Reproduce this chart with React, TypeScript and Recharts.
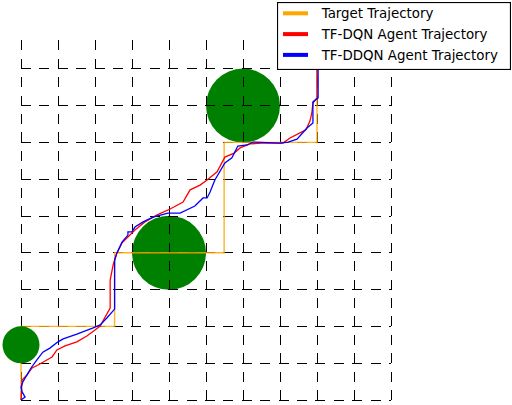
import { ComposedChart, Legend, Scatter, XAxis, YAxis } from 'recharts';

// grid cell coordinates
const gridX = [0, 1, 2, 3, 4, 5, 6, 7, 8, 9, 10];
const gridY = [0, 1, 2, 3, 4, 5, 6, 7, 8, 9];

// target path
const targetX = [0, 0, 2.53, 2.53, 5.49, 5.49, 8, 8];
const targetY = [0, 2, 2, 4, 4, 7, 7, 10];

// TF-DQN agent
const dqnX = [0, 0.03, 0.16, 0.3, 0.46, 0.65, 0.84, 0.97, 1.19, 1.51, 1.78, 2.0, 2.14, 2.41, 2.41, 2.49, 2.59, 2.73, 2.89, 3.08, 3.35, 3.68, 4.03, 4.38, 4.57, 4.84, 5.03, 5.3, 5.51, 5.76, 5.92, 6.19, 6.51, 7.08, 7.27, 7.54, 7.7, 7.81, 7.86, 7.89, 8.0, 8.0];
const dqnY = [0, 0.54, 0.68, 0.87, 0.95, 1.06, 1.17, 1.36, 1.47, 1.58, 1.74, 1.9, 2.01, 2.5, 3.26, 3.67, 3.99, 4.27, 4.43, 4.62, 4.84, 5.03, 5.19, 5.38, 5.71, 5.84, 5.98, 6.2, 6.6, 6.71, 6.85, 6.96, 6.98, 6.98, 7.12, 7.26, 7.34, 7.58, 7.8, 8.07, 8.21, 10.0];

// TF-DDQN agent
const ddqnX = [0, 0.11, 0.03, 0, 0.05, 0.16, 0.27, 0.43, 0.59, 0.78, 1.0, 1.14, 1.51, 1.95, 2.14, 2.32, 2.53, 2.53, 2.59, 2.73, 2.89, 2.89, 3.0, 3.08, 3.3, 3.57, 3.97, 4.3, 4.7, 4.92, 5.03, 5.11, 5.24, 5.51, 5.7, 5.86, 6.11, 6.27, 7.0, 7.22, 7.46, 7.73, 7.89, 7.89, 8.03, 8.03];
const ddqnY = [0, 0.08, 0.22, 0.35, 0.49, 0.68, 0.87, 1.09, 1.3, 1.41, 1.58, 1.66, 1.79, 1.96, 2.04, 2.23, 2.47, 3.8, 3.99, 4.29, 4.48, 4.57, 4.57, 4.7, 4.84, 4.97, 5.08, 5.08, 5.27, 5.49, 5.49, 5.65, 5.98, 6.44, 6.58, 6.9, 6.93, 7.01, 6.98, 7.01, 7.09, 7.39, 7.53, 8.1, 8.21, 10.0];

// obstacles (first one is drawn on top)
const obstacleX = [0, 4, 6];
const obstacleY = [1.5, 4, 8];
const obstacleR = [0.5, 1, 1];

const seriesNames = ['Target Trajectory', 'TF-DQN Agent Trajectory', 'TF-DDQN Agent Trajectory'];
const seriesColors = ['#ffa500', '#ff0000', '#0000ff'];

const W = 512;
const H = 405;
const margin = { top: 32, right: 121, bottom: 5, left: 21 };
const UNIT = (W - margin.left - margin.right) / 10;

const zip = (xs: number[], ys: number[]) => xs.map((x, i) => ({ x, y: ys[i] }));
const obstacles = obstacleX.map((x, i) => ({ x, y: obstacleY[i], r: obstacleR[i] }));

const hLines = gridY.map((v) => [{ x: 0, y: v }, { x: 10, y: v }]);
const vLines = gridX.map((v) => [{ x: v, y: 0 }, { x: v, y: 10 }]);

const Blob = (p: any) => <circle cx={p.cx} cy={p.cy} r={p.payload.r * UNIT} fill="#008000" />;
const NoMark = () => <g />;

const renderLegend = () => (
  <svg width={234} height={68} style={{ display: 'block' }}>
    <rect x={0.5} y={0.5} width={233} height={67} fill="#fff" stroke="#000" strokeWidth={1.2} />
    {seriesNames.map((name, i) => (
      <g key={name}>
        <line x1={6} x2={31} y1={11.3 + 20.8 * i} y2={11.3 + 20.8 * i} stroke={seriesColors[i]} strokeWidth={4} />
        <text x={44.7} y={16 + 20.8 * i} fontFamily="DejaVu Sans" fontSize={13.4} fill="#000">
          {name}
        </text>
      </g>
    ))}
  </svg>
);

// everything is a Scatter so JSX order == paint order
export default function App() {
  return (
    <div style={{ position: 'absolute', left: 0, top: 0, background: '#fff' }}>
      <ComposedChart width={W} height={H} margin={margin}>
        <XAxis type="number" dataKey="x" domain={[0, 10]} ticks={gridX} hide />
        <YAxis type="number" dataKey="y" domain={[0, 10]} ticks={gridY} hide />
        <Scatter data={obstacles.slice(1)} dataKey="y" shape={Blob} legendType="none" isAnimationActive={false} />
        {[...hLines, ...vLines].map((seg, i) => (
          <Scatter
            key={'g' + i}
            data={seg}
            dataKey="y"
            shape={NoMark}
            line={{ stroke: '#000', strokeWidth: 1, strokeDasharray: '10 8.4', shapeRendering: 'crispEdges' }}
            legendType="none"
            isAnimationActive={false}
          />
        ))}
        {[zip(targetX, targetY), zip(dqnX, dqnY), zip(ddqnX, ddqnY)].map((pts, i) => (
          <Scatter
            key={seriesNames[i]}
            name={seriesNames[i]}
            data={pts}
            dataKey="y"
            shape={NoMark}
            fill={seriesColors[i]}
            line={{ stroke: seriesColors[i], strokeWidth: i === 0 ? 1.4 : 1.3, strokeOpacity: i === 0 ? 0.85 : 1 }}
            isAnimationActive={false}
          />
        ))}
        <Scatter data={obstacles.slice(0, 1)} dataKey="y" shape={Blob} legendType="none" isAnimationActive={false} />
        <Legend
          layout="vertical"
          align="center"
          verticalAlign="middle"
          content={renderLegend}
          wrapperStyle={{ position: 'absolute', left: 277, top: 2, width: 234, height: 68, margin: 0 }}
        />
      </ComposedChart>
    </div>
  );
}
